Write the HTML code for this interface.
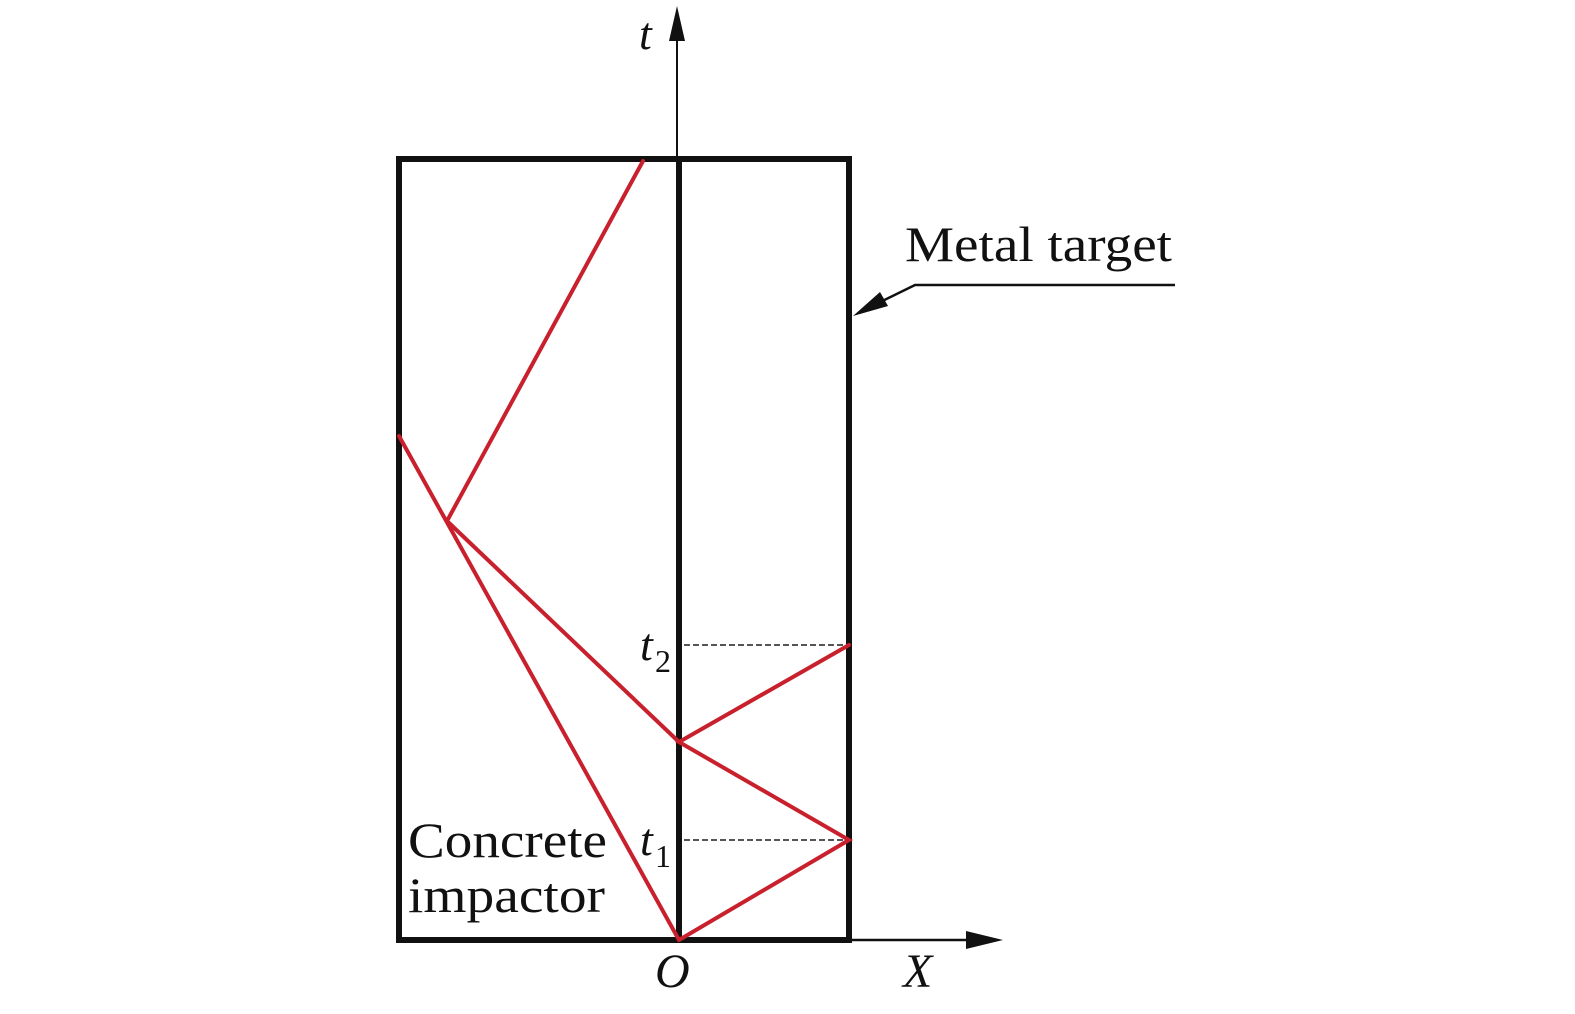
<!DOCTYPE html>
<html><head><meta charset="utf-8"><style>
html,body{margin:0;padding:0;background:#fff;}
svg{display:block;}
text{font-family:"Liberation Serif",serif;fill:#111;}
</style></head><body>
<svg width="1575" height="1014" viewBox="0 0 1575 1014" xmlns="http://www.w3.org/2000/svg">
<line x1="677" y1="30" x2="677" y2="160" stroke="#111" stroke-width="2"/>
<polygon points="677,6 669,41 685,41" fill="#111"/>
<line x1="849" y1="940" x2="975" y2="940" stroke="#111" stroke-width="2.5"/>
<polygon points="1003,940 966,931 966,949" fill="#111"/>
<rect x="399" y="159" width="450" height="781" fill="none" stroke="#111" stroke-width="6"/>
<line x1="679" y1="159" x2="679" y2="940" stroke="#111" stroke-width="6"/>
<line x1="684" y1="645" x2="847" y2="645" stroke="#555" stroke-width="2" stroke-dasharray="6,3"/>
<line x1="684" y1="840" x2="847" y2="840" stroke="#555" stroke-width="2" stroke-dasharray="6,3"/>
<g stroke="#c8202c" stroke-width="4" fill="none" stroke-linecap="round">
<line x1="399" y1="436" x2="679" y2="940"/>
<line x1="447" y1="521" x2="643" y2="161"/>
<line x1="447" y1="521" x2="679" y2="742"/>
<polyline points="679,940 849,840 679,742 849,645"/>
</g>
<polyline points="868,308 915,285 1175,285" fill="none" stroke="#111" stroke-width="2.5"/>
<polygon points="853,316 880,292 888,306" fill="#111"/>
<text x="905" y="261" font-size="50" textLength="267" lengthAdjust="spacingAndGlyphs">Metal target</text>
<text x="408" y="857" font-size="50" textLength="199" lengthAdjust="spacingAndGlyphs">Concrete</text>
<text x="408" y="912" font-size="50" textLength="197" lengthAdjust="spacingAndGlyphs">impactor</text>
<text x="639" y="49" font-size="46" font-style="italic">t</text>
<text x="640" y="660" font-size="46" font-style="italic">t</text>
<text x="655" y="672" font-size="32">2</text>
<text x="640" y="855" font-size="46" font-style="italic">t</text>
<text x="655" y="867" font-size="32">1</text>
<text x="655" y="987" font-size="48" font-style="italic">O</text>
<text x="903" y="987" font-size="48" font-style="italic">X</text>
</svg>
</body></html>
